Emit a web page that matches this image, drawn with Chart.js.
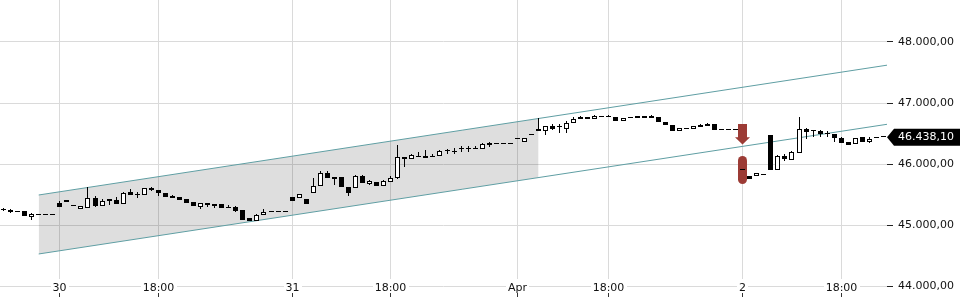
<!DOCTYPE html>
<html>
<head>
<meta charset="utf-8">
<script src="https://cdn.jsdelivr.net/npm/chart.js@4.4.1/dist/chart.umd.min.js"></script>
<style>
html,body{margin:0;padding:0;background:#ffffff;overflow:hidden;}
#wrap{position:relative;width:960px;height:300px;}
</style>
</head>
<body>
<div id="wrap"><canvas id="chart"></canvas></div>
<script>
// ---- data (hourly-slot candles, index = slot) ----
const opens = [45262,45246,45230,45225,45136,45164,45164,45164,45366,45405,
45328,45262,45279,45443,45311,45421,45415,45340,45536,45494,
45492,45612,45574,45520,45476,45451,45421,45372,45290,45356,
45344,45344,45287,45290,45246,45110,45071,45159,45208,45208,
45208,45454,45438,45421,45530,45640,45848,45782,45792,45618,
45607,45804,45677,45710,45635,45700,45766,46110,46077,46123,
46127,46123,46127,46213,46218,46253,46253,46253,46246,46339,
46330,46330,46330,46404,46356,46497,46569,46547,46629,46604,
46580,46678,46774,46774,46741,46785,46785,46770,46700,46772,
46780,46790,46790,46764,46687,46639,46541,46590,46580,46606,
46655,46660,46553,46553,46553,45897,45799,45809,45815,46475,
45902,46131,46071,46186,46580,46541,46541,46494,46492,46426,
46366,46323,46438,46361,46440,46438.1];
const highs = [45271,45262,45233,45230,45202,45164,45164,45164,45399,45410,
45328,45311,45628,45476,45426,45426,45464,45546,45590,45546,
45607,45628,45582,45525,45497,45455,45425,45372,45361,45356,
45344,45344,45323,45307,45246,45110,45175,45262,45208,45208,
45208,45454,45508,45421,45766,45881,45886,45782,45792,45618,
45820,45820,45733,45710,45733,45798,46311,46110,46156,46202,
46234,46164,46234,46246,46257,46290,46290,46300,46344,46366,
46330,46330,46330,46404,46426,46497,46749,46629,46652,46652,
46705,46766,46785,46774,46797,46785,46807,46770,46749,46772,
46780,46790,46807,46764,46687,46639,46590,46590,46619,46655,
46672,46660,46553,46553,46553,45897,45799,45848,45815,46475,
46147,46164,46218,46766,46590,46557,46557,46536,46492,46442,
46366,46426,46438,46448,46440,46438.1];
const lows = [45230,45197,45205,45143,45082,45164,45164,45164,45301,45372,
45311,45262,45279,45290,45311,45328,45340,45340,45492,45438,
45492,45558,45476,45459,45443,45410,45356,45305,45257,45300,
45279,45274,45274,45213,45082,45071,45071,45159,45208,45208,
45208,45398,45438,45340,45530,45640,45766,45661,45618,45481,
45607,45684,45656,45635,45635,45700,45750,45946,46077,46115,
46098,46118,46127,46164,46164,46202,46202,46249,46246,46274,
46330,46330,46330,46404,46356,46471,46547,46475,46563,46513,
46503,46678,46741,46741,46741,46764,46764,46705,46700,46754,
46754,46757,46754,46687,46639,46547,46541,46569,46580,46606,
46629,46550,46553,46553,46553,45897,45760,45809,45815,45902,
45902,46049,46071,46186,46415,46442,46447,46447,46366,46349,
46317,46323,46366,46339,46430,46438.1];
const closes = [45238,45213,45208,45148,45175,45164,45164,45164,45301,45377,
45311,45311,45443,45311,45398,45394,45340,45530,45492,45490,
45602,45574,45520,45464,45443,45410,45356,45305,45356,45323,
45317,45274,45274,45235,45082,45071,45159,45213,45208,45208,
45208,45398,45508,45340,45635,45858,45766,45749,45618,45520,
45804,45684,45717,45635,45717,45771,46110,46077,46143,46115,
46098,46118,46209,46205,46192,46249,46249,46249,46328,46306,
46330,46330,46330,46404,46426,46471,46547,46629,46580,46600,
46678,46738,46741,46741,46785,46764,46764,46705,46749,46754,
46754,46757,46754,46687,46639,46547,46590,46569,46619,46639,
46629,46550,46553,46553,46553,45897,45760,45848,45815,45902,
46131,46082,46197,46569,46525,46533,46492,46490,46426,46349,
46317,46426,46366,46415,46430,46438.1];

const xTickIndex  = [8, 22, 41, 55, 73, 86, 105, 119];
const xTickLabels = ['30', '18:00', '31', '18:00', 'Apr', '18:00', '2', '18:00'];
const yTicks      = [44000, 45000, 46000, 47000, 48000];
const yTickLabels = ['44.000,00', '45.000,00', '46.000,00', '47.000,00', '48.000,00'];

// channel (x = slot index, y = price)
const channelX      = [5, 125.5];
const channelUpper  = [45492, 47620];
const channelLower  = [44525, 46651];
const shadeX        = [5, 76];
const shadeUpper    = [45492, 46746];
const shadeLower    = [44525, 45778];

// gap markers at slot 105
const markerIndex   = 105;
const pillRange     = [45667, 46128];
const arrowValues   = [46656, 46438, 46320]; // top, neck, tip

const lastPrice = closes[closes.length - 1];

function fmtDE(v) {
  const parts = v.toFixed(2).split('.');
  return parts[0].replace(/\B(?=(\d{3})+(?!\d))/g, '.') + ',' + parts[1];
}

const idx = opens.map((_, i) => i);
const wickData = idx.map(i => ({ x: i, y: [lows[i], highs[i]] }));
const bodyData = idx.map(i => ({ x: i, y: [Math.min(opens[i], closes[i]), Math.max(opens[i], closes[i])] }));
const bodyFill = idx.map(i => closes[i] > opens[i] ? '#ffffff' : '#000000');

const FONT = "'DejaVu Sans', 'Liberation Sans', sans-serif";
const MARKER = '#9c3b35';
const GRID = '#dadada';

const snapPlugin = {
  id: 'snap',
  afterDatasetsUpdate(chart) {
    chart.data.datasets.forEach((ds, di) => {
      if (!ds.snap) return;
      const meta = chart.getDatasetMeta(di);
      meta.data.forEach(el => {
        const top = Math.round(Math.min(el.y, el.base));
        let bot = Math.round(Math.max(el.y, el.base));
        if (ds.snap === 'body' && bot <= top) bot = top + 1;
        el.x = Math.floor(el.x) + 0.5;
        el.y = top;
        el.base = bot;
      });
    });
  }
};

const decoPlugin = {
  id: 'deco',
  afterDatasetsDraw(chart) {
    const ctx = chart.ctx, xs = chart.scales.x, ys = chart.scales.y;
    const cx = Math.floor(xs.getPixelForValue(markerIndex)) + 0.5;
    const yTop = ys.getPixelForValue(arrowValues[0]);
    const yNeck = ys.getPixelForValue(arrowValues[1]);
    const yTip = ys.getPixelForValue(arrowValues[2]);
    ctx.save();
    ctx.fillStyle = MARKER;
    ctx.beginPath();
    ctx.moveTo(cx - 4.5, yTop);
    ctx.lineTo(cx + 4.5, yTop);
    ctx.lineTo(cx + 4.5, yNeck);
    ctx.lineTo(cx + 7.5, yNeck);
    ctx.lineTo(cx, yTip);
    ctx.lineTo(cx - 7.5, yNeck);
    ctx.lineTo(cx - 4.5, yNeck);
    ctx.closePath();
    ctx.fill();
    ctx.restore();
  },
  afterDraw(chart) {
    const ctx = chart.ctx, xs = chart.scales.x, ys = chart.scales.y;
    const area = chart.chartArea;
    ctx.save();
    ctx.font = '11px ' + FONT;
    // x labels with white backdrop
    xTickIndex.forEach((v, k) => {
      const px = Math.floor(xs.getPixelForValue(v)) + 0.5;
      const label = xTickLabels[k];
      const w = ctx.measureText(label).width;
      ctx.fillStyle = '#ffffff';
      ctx.fillRect(Math.round(px - w / 2 - 2), 279, Math.round(w + 4), 21);
      ctx.fillStyle = '#111111';
      ctx.textAlign = 'center';
      ctx.textBaseline = 'alphabetic';
      ctx.fillText(label, px, 291);
      ctx.strokeStyle = '#333333';
      ctx.lineWidth = 1;
      ctx.beginPath();
      ctx.moveTo(px, 293);
      ctx.lineTo(px, 297);
      ctx.stroke();
    });
    // last price tag
    const py = ys.getPixelForValue(lastPrice);
    const left = area.right;
    ctx.fillStyle = '#000000';
    ctx.beginPath();
    ctx.moveTo(left, py);
    ctx.lineTo(left + 7, py - 8.5);
    ctx.lineTo(chart.width, py - 8.5);
    ctx.lineTo(chart.width, py + 8.5);
    ctx.lineTo(left + 7, py + 8.5);
    ctx.closePath();
    ctx.fill();
    ctx.fillStyle = '#ffffff';
    ctx.textAlign = 'left';
    ctx.textBaseline = 'middle';
    ctx.fillText(fmtDE(lastPrice), left + 11, py);
    ctx.restore();
  }
};

function noPad(s) {
  s.paddingTop = 0; s.paddingBottom = 0; s.paddingLeft = 0; s.paddingRight = 0;
}

const chart = new Chart(document.getElementById('chart'), {
  type: 'bar',
  data: {
    datasets: [
      {
        type: 'line', label: 'shadeTop', order: 10,
        data: shadeX.map((x, i) => ({ x, y: shadeUpper[i] })),
        borderWidth: 0, pointRadius: 0, fill: '+1',
        backgroundColor: 'rgba(0,0,0,0.13)'
      },
      {
        type: 'line', label: 'shadeBottom', order: 11,
        data: shadeX.map((x, i) => ({ x, y: shadeLower[i] })),
        borderWidth: 0, pointRadius: 0, fill: false
      },
      {
        type: 'line', label: 'upper', order: 9,
        data: channelX.map((x, i) => ({ x, y: channelUpper[i] })),
        borderColor: '#5f9ea3', borderWidth: 1, pointRadius: 0, fill: false
      },
      {
        type: 'line', label: 'lower', order: 9,
        data: channelX.map((x, i) => ({ x, y: channelLower[i] })),
        borderColor: '#5f9ea3', borderWidth: 1, pointRadius: 0, fill: false
      },
      {
        label: 'pill', order: 8, snap: 'pill',
        data: [{ x: markerIndex, y: pillRange }],
        backgroundColor: MARKER, borderWidth: 0,
        barThickness: 9, borderRadius: 4.5, borderSkipped: false,
        grouped: false, inflateAmount: 0
      },
      {
        label: 'wicks', order: 2, snap: 'wick',
        data: wickData,
        backgroundColor: '#000000', borderWidth: 0,
        barThickness: 1, grouped: false, inflateAmount: 0, borderSkipped: false
      },
      {
        label: 'bodies', order: 1, snap: 'body',
        data: bodyData,
        backgroundColor: bodyFill, borderColor: '#000000', borderWidth: 1,
        barThickness: 5, minBarLength: 1, grouped: false, inflateAmount: 0, borderSkipped: false
      }
    ]
  },
  options: {
    responsive: true,
    maintainAspectRatio: false,
    animation: false,
    events: [],
    layout: { padding: 0, autoPadding: false },
    plugins: { legend: { display: false }, tooltip: { enabled: false }, title: { display: false } },
    scales: {
      x: {
        type: 'linear', min: -0.5, max: 125.5, offset: false,
        grid: { offset: false, color: GRID, drawTicks: false, lineWidth: 1 },
        border: { display: false },
        ticks: { display: false },
        afterBuildTicks: s => { s.ticks = xTickIndex.map(v => ({ value: v })); },
        afterFit: s => { s.height = 0; noPad(s); }
      },
      y: {
        type: 'linear', position: 'right', stacked: false,
        min: 43770.6, max: 48688.5,
        grid: { color: GRID, tickColor: '#222222', tickLength: 6, drawTicks: true, lineWidth: 1 },
        border: { display: false },
        ticks: {
          font: { family: FONT, size: 11 }, color: '#111111', padding: 5,
          callback: (v, i) => yTickLabels[i]
        },
        afterBuildTicks: s => { s.ticks = yTicks.map(v => ({ value: v })); },
        afterFit: s => { s.width = 73; noPad(s); }
      }
    }
  },
  plugins: [snapPlugin, decoPlugin]
});
</script>
</body>
</html>
